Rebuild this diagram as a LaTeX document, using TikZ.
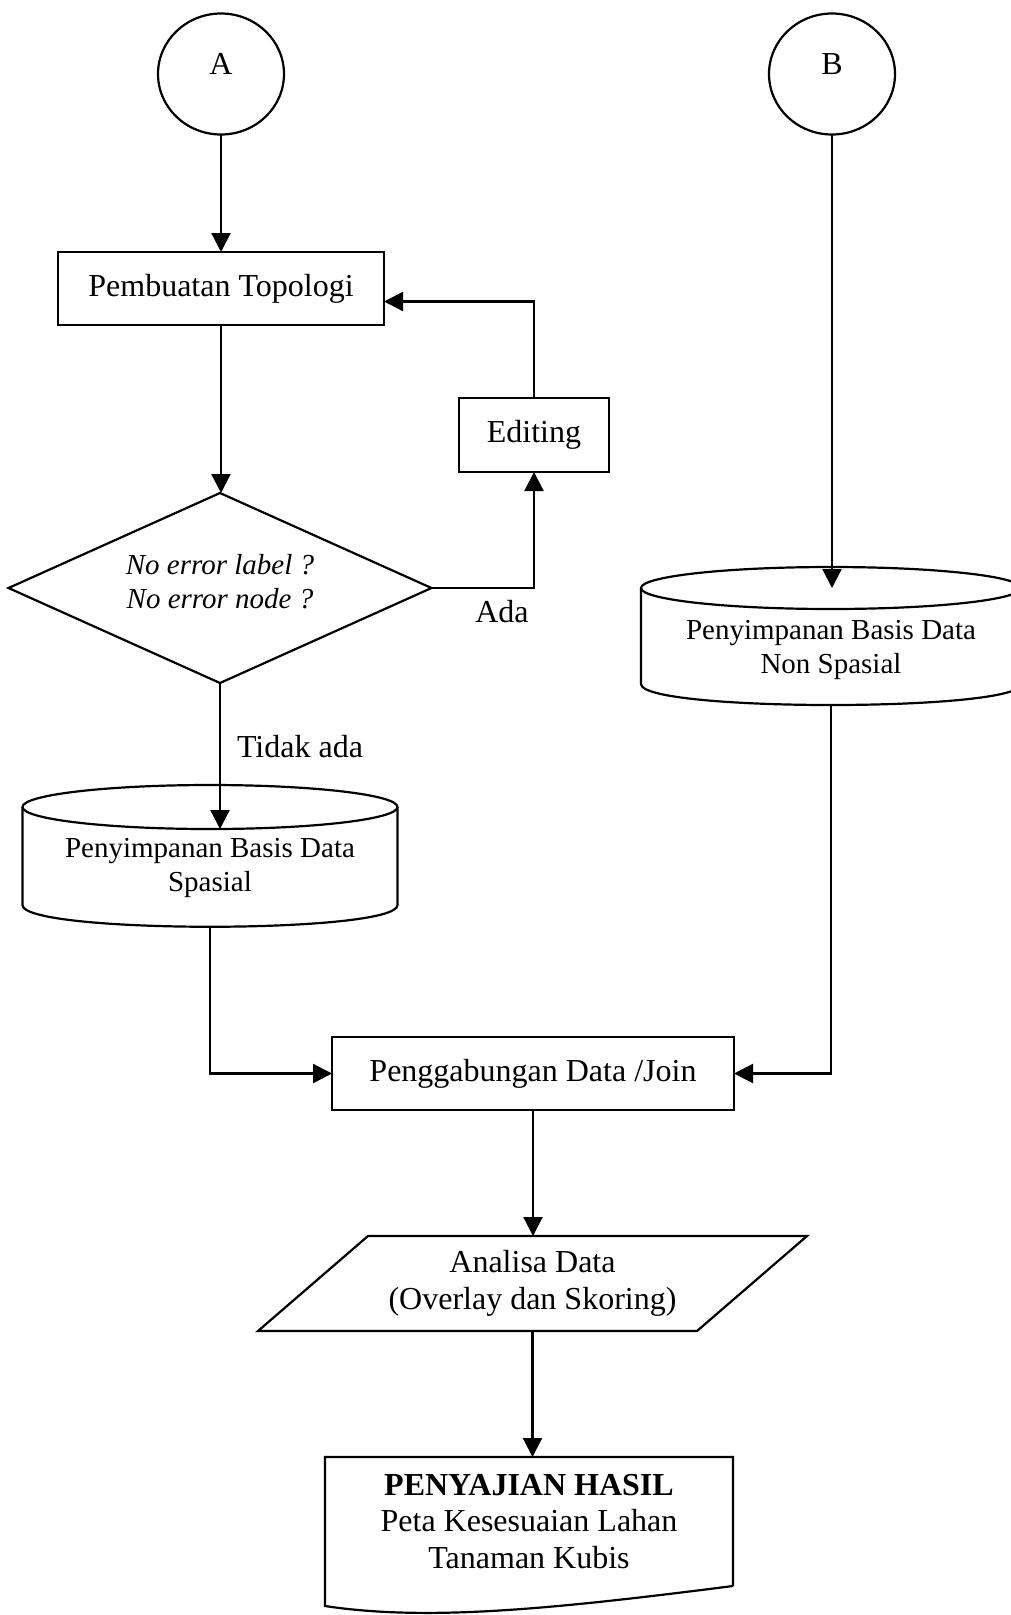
\documentclass[tikz,border=0pt]{standalone}
\usepackage{fontspec}
\setmainfont{Liberation Serif}
\usetikzlibrary{arrows.meta,shapes.geometric,calc}

\begin{document}
\begin{tikzpicture}[x=1pt,y=-1pt,
  line width=2.2pt, line join=miter,
  every node/.style={inner sep=0pt, outer sep=0pt},
  big/.style={font=\fontsize{32}{36.5}\selectfont},
  small/.style={font=\fontsize{29}{33.5}\selectfont},
  conn/.style={-{Triangle[length=19pt,width=19pt]}},
  terminal/.style={draw, ellipse, minimum width=126pt, minimum height=121pt, big, text depth=20pt},
  process/.style={draw, rectangle, big, align=center},
  decision/.style={draw, diamond, aspect=2.226, minimum width=423pt, minimum height=190pt},
  cylbody/.style={rectangle},
  plain/.style={big, align=center}
]
\fill[white] (0,0) rectangle (1011,1615);
\clip (0,0) rectangle (1011,1615);

% start connectors
\node[terminal] (A) at (221,74) {A};
\node[terminal] (B) at (832,74) {B};

% left branch
\node[process, minimum width=326pt, minimum height=73pt] (topo) at (221,288.5) {Pembuatan Topologi};
\node[process, minimum width=150pt, minimum height=74pt] (edit) at (534,435) {Editing};
\node[decision] (dec) at (220,588) {};
\node[small, align=center, font=\fontsize{29}{34}\selectfont\itshape] (dectxt) at ([yshift=6pt]dec.center) {No error label ?\\No error node ?};

% spatial database (cylinder)
\node[cylbody, minimum width=375pt, minimum height=98pt] (dbS) at (210,856) {};
\draw (dbS.north) ellipse [x radius=187.5pt, y radius=22pt];
\draw (dbS.north west) -- (dbS.south west)
  .. controls ($(dbS.south west)+(0,29)$) and ($(dbS.south east)+(0,29)$) .. (dbS.south east)
  -- (dbS.north east);
\node[small, align=center] (dbStxt) at ([yshift=-12pt]dbS.center) {Penyimpanan Basis Data\\Spasial};
\coordinate (dbSin) at ($(dbS.north)+(0,22)$);
\coordinate (dbSout) at ($(dbS.south)+(0,22)$);

% non-spatial database (cylinder)
\node[cylbody, minimum width=380pt, minimum height=96pt] (dbN) at (831,636) {};
\draw (dbN.north) ellipse [x radius=190pt, y radius=21pt];
\draw (dbN.north west) -- (dbN.south west)
  .. controls ($(dbN.south west)+(0,28)$) and ($(dbN.south east)+(0,28)$) .. (dbN.south east)
  -- (dbN.north east);
\node[small, align=center] (dbNtxt) at ([yshift=-14pt]dbN.center) {Penyimpanan Basis Data\\Non Spasial};
\coordinate (dbNout) at ($(dbN.south)+(0,21)$);

% join, analysis, output
\node[process, minimum width=402pt, minimum height=73pt] (join) at (533,1073.5) {Penggabungan Data /Join};

\node[plain, minimum width=439pt, minimum height=95pt] (anl) at (532.5,1283.5) {Analisa Data\\(Overlay dan Skoring)};
\draw ($(anl.north west)+(55,0)$) -- ($(anl.north east)+(55,0)$)
  -- ($(anl.south east)+(-55,0)$) -- ($(anl.south west)+(-55,0)$) -- cycle;

\node[plain, minimum width=408pt, minimum height=129pt] (doc) at (529,1521.5)
  {\textbf{PENYAJIAN HASIL}\\Peta Kesesuaian Lahan\\Tanaman Kubis};
\draw (doc.south east) -- (doc.north east) -- (doc.north west) -- ($(doc.south west)+(0,20)$)
  .. controls ($(doc.south west)+(105,36)$) and ($(doc.south east)+(-173,22)$) .. (doc.south east);

% branch labels
\node[big] (ada) at (502,612) {Ada};
\node[big] (tidak) at (300,746.5) {Tidak ada};

% connectors
\draw[conn] (A.south) -- (A.south |- topo.north);
\draw[conn] (topo.south) -- (topo.south |- dec.north);
\draw[conn] (dec.east) -| (edit.south);
\draw[conn] (edit.north) |- ($(topo.east)+(0,13)$);
\draw[conn] (dec.south) -- (dec.south |- dbSin);
\draw[conn] (dbSout) |- (join.west);
\draw[conn] (B.south) -- (B.south |- dbN.north);
\draw[conn] (dbNout) |- (join.east);
\draw[conn] (join.south) -- (join.south |- anl.north);
\draw[conn] (anl.south) -- (anl.south |- doc.north);
\end{tikzpicture}
\end{document}
